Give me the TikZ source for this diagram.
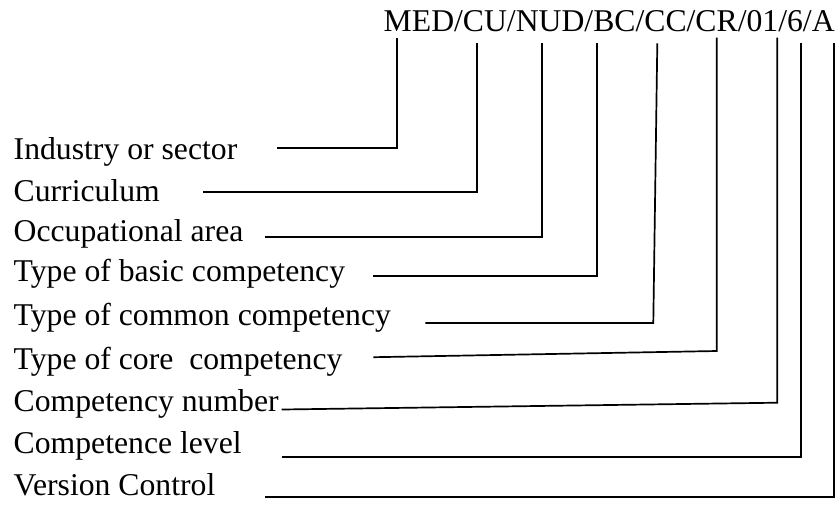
\documentclass[tikz,border=0pt]{standalone}
\usepackage{fontspec}
\setmainfont{Liberation Serif}

\begin{document}
\begin{tikzpicture}[x=0.5pt,y=-0.5pt,
	lbl/.style={anchor=base west,inner sep=0pt,font=\fontsize{15.85}{19}\selectfont},
	lead/.style={line width=0.85pt,line join=miter}]
	\useasboundingbox (0,0) rectangle (840,505);
	\node(code)[lbl] at (383.3,31.7) {MED/CU/NUD/BC/CC/CR/01/6/A};
		% tops of the leads under the code
		\coordinate (med) at (396.7,37.7);
		\coordinate (cu) at (476.7,43.3);
		\coordinate (nud) at (542.3,43.3);
		\coordinate (bc) at (596.7,43.3);
		\coordinate (cc) at (657.3,43.3);
		\coordinate (cr) at (716.7,37.7);
		\coordinate (n01) at (777.3,37.7);
		\coordinate (n6) at (801.3,43.3);
		\coordinate (ca) at (833.8,43.3);
		% labels
		\node(ind)[lbl] at (13.3,159) {Industry or sector};
		\node(cur)[lbl] at (13.3,201) {Curriculum};
		\node(occ)[lbl] at (13.3,241) {Occupational area};
		\node(bas)[lbl] at (13.3,281) {Type of basic competency};
		\node(com)[lbl] at (13.3,325) {Type of common competency};
		\node(cor)[lbl] at (13.3,369) {Type of core~ competency};
		\node(num)[lbl] at (13.3,411) {Competency number};
		\node(lev)[lbl] at (13.3,453) {Competence level};
		\node(ver)[lbl] at (13.3,495) {Version Control};
		% left ends of the leads
		\coordinate (ind-s) at (277,148.3);
		\coordinate (cur-s) at (203,191.7);
		\coordinate (occ-s) at (265,237.3);
		\coordinate (bas-s) at (373.3,275.7);
		\coordinate (com-s) at (425.3,323);
		\coordinate (cor-s) at (373.3,357.2);
		\coordinate (num-s) at (281.7,409.5);
		\coordinate (lev-s) at (281.7,456.7);
		\coordinate (ver-s) at (265,496.7);
						\draw[lead] (ind-s) -- (ind-s -| med) -- (med);
						\draw[lead] (cur-s) -- (cur-s -| cu) -- (cu);
						\draw[lead] (occ-s) -- (occ-s -| nud) -- (nud);
						\draw[lead] (bas-s) -- (bas-s -| bc) -- (bc);
						\draw[lead] (com-s) -- (653.3,323) -- (cc);
						\draw[lead] (cor-s) -- (716.7,351) -- (cr);
						\draw[lead] (num-s) -- (777.3,402.7) -- (n01);
						\draw[lead] (lev-s) -- (lev-s -| n6) -- (n6);
						\draw[lead] (ver-s) -- (ver-s -| ca) -- (ca);
				\end{tikzpicture}
\end{document}
